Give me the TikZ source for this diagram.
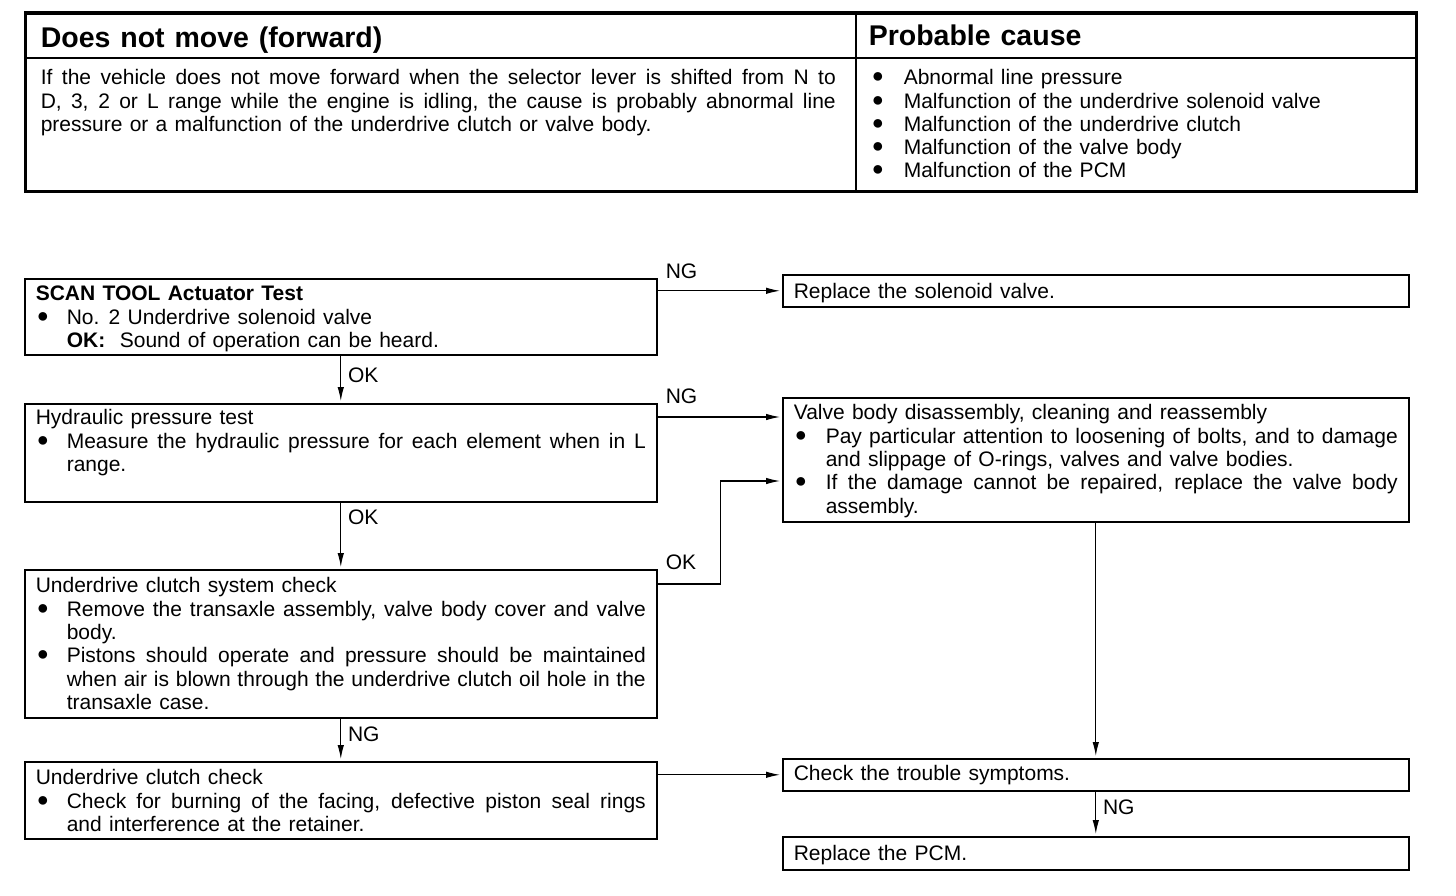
\documentclass[tikz,border=0pt]{standalone}
\usepackage{fontspec}
\usepackage{graphicx}
\setmainfont{Liberation Sans}[WordSpace={1.25,1.6,1.3}]
\usetikzlibrary{arrows.meta}
\newcommand\bodyfont{\fontsize{21}{23.3}\selectfont}
\newlength\bhang
\setlength\bhang{31pt}
\newcommand\bul{\raisebox{2pt}{\fontsize{20}{20}\selectfont ●}}
\newcommand\bitem[1]{\hangindent=\bhang\hangafter=1\makebox[\bhang][l]{\hspace{1pt}\bul}#1\par}
\newcommand\bx[4][22]{\parbox[t][#3pt][t]{#2pt}{\bodyfont\rule{0pt}{#1pt}#4}}
\tikzset{
  fb/.style={draw, line width=1.6pt, inner xsep=11pt, inner ysep=0pt, anchor=north west},
  cell/.style={draw, line width=1.6pt, inner xsep=0pt, inner ysep=0pt, anchor=north west},
  arr/.style={line width=1.1pt, -{Latex[length=14pt,width=6.5pt]}, shorten >=2pt},
  lab/.style={inner sep=0pt, font=\bodyfont},
}
\begin{document}
\begin{tikzpicture}[x=1pt,y=-1pt]
\useasboundingbox (0,0) rectangle (1456,896);
% ---- top table ----
\node[cell, minimum width=830pt, minimum height=44pt] (H1) at (25,13)
  {\makebox[830pt][l]{\hspace{15pt}\fontsize{28.5}{32}\selectfont\bfseries\rule{0pt}{30pt}Does not move (forward)}};
\node[cell, minimum width=560pt, minimum height=44pt] (H2) at (855,13)
  {\makebox[560pt][l]{\hspace{13pt}\fontsize{28.5}{32}\selectfont\bfseries Probable cause}};
\node[cell] (C1) at (25,57)
  {\makebox[830pt][l]{\hspace{15pt}\bx[27]{795}{133}{If the vehicle does not move forward when the selector lever is shifted from N to\linebreak
   D, 3, 2 or L range while the engine is idling, the cause is probably abnormal line\linebreak
   pressure or a malfunction of the underdrive clutch or valve body.}}};
\node[cell] (C2) at (855,57)
  {\makebox[560pt][l]{\hspace{15pt}\setlength\bhang{33pt}\bx[27]{540}{133}{%
   \bitem{Abnormal line pressure}
   \bitem{Malfunction of the underdrive solenoid valve}
   \bitem{Malfunction of the underdrive clutch}
   \bitem{Malfunction of the valve body}
   \bitem{Malfunction of the PCM}}}};
\draw[line width=3pt] (H1.north west) rectangle (C2.south east);
% ---- left column ----
\node[fb] (B1) at (24,278) {\bx{610}{76}{\textbf{SCAN TOOL Actuator Test}\par
  \bitem{No. 2 Underdrive solenoid valve\\\textbf{OK:}\ \ Sound of operation can be heard.}}};
\node[fb] (B2) at (24,403) {\bx[21]{610}{98}{Hydraulic pressure test\par
  \bitem{Measure the hydraulic pressure for each element when in L\linebreak range.}}};
\node[fb] (B3) at (24,569) {\bx[23]{610}{148}{Underdrive clutch system check\par
  \bitem{Remove the transaxle assembly, valve body cover and valve\linebreak body.}
  \bitem{Pistons should operate and pressure should be maintained\linebreak when air is blown through the underdrive clutch oil hole in the\linebreak transaxle case.}}};
\node[fb] (B4) at (24,761) {\bx[23]{610}{77}{Underdrive clutch check\par
  \bitem{Check for burning of the facing, defective piston seal rings\linebreak and interference at the retainer.}}};
% ---- right column ----
\node[fb] (R1) at (782,274) {\bx[24]{604}{32}{Replace the solenoid valve.}};
\node[fb] (R2) at (782,397) {\bx[22]{604}{124}{Valve body disassembly, cleaning and reassembly\par
  \setlength\bhang{32pt}%
  \bitem{Pay particular attention to loosening of bolts, and to damage\linebreak and slippage of O-rings, valves and valve bodies.}
  \bitem{If the damage cannot be repaired, replace the valve body\linebreak assembly.}}};
\node[fb] (R3) at (782,758) {\bx[22]{604}{32}{Check the trouble symptoms.}};
\node[fb] (R4) at (782,836) {\bx[24]{604}{33}{Replace the PCM.}};
% ---- connectors ----
\coordinate (r2a) at ([yshift=-20pt]R2.north west);
\coordinate (r2b) at ([yshift=-84pt]R2.north west);
\coordinate (b3a) at ([yshift=-15pt]B3.north east);
\coordinate (b3k) at ([xshift=63pt]b3a);
\draw[arr] (B1.east |- R1.west) -- (R1.west);
\draw[arr] (B2.east |- r2a) -- (r2a);
\draw[arr] (b3a) -- (b3k) |- (r2b);
\draw[arr] (B4.east |- R3.west) -- (R3.west);
\draw[arr] (B1.south) -- (B2.north);
\draw[arr] (B2.south) -- (B3.north);
\draw[arr] (B3.south) -- (B4.north);
\draw[arr] (R2.south) -- (R3.north);
\draw[arr] (R3.south) -- (R4.north);
% ---- labels ----
\node[lab, anchor=south west] (l1) at ([xshift=8pt,yshift=-1pt]B1.north east) {NG};
\node[lab, anchor=south west] (l2) at ([xshift=8pt,yshift=-1pt]B2.north east) {NG};
\node[lab, anchor=south west] (l3) at ([xshift=8pt,yshift=-1pt]B3.north east) {OK};
\node[lab, anchor=west] (l4) at ([xshift=7pt,yshift=-20pt]B1.south) {OK};
\node[lab, anchor=west] (l5) at ([xshift=7pt,yshift=-15pt]B2.south) {OK};
\node[lab, anchor=west] (l6) at ([xshift=7pt,yshift=-16pt]B3.south) {NG};
\node[lab, anchor=west] (l7) at ([xshift=7pt,yshift=-16pt]R3.south) {NG};
\end{tikzpicture}
\end{document}
